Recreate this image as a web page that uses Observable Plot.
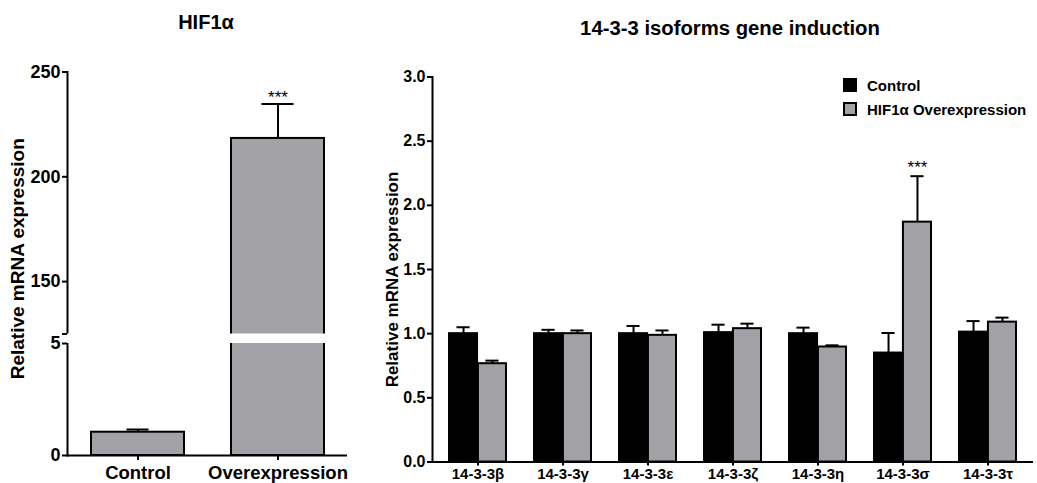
<!DOCTYPE html>
<html><head><meta charset="utf-8">
<script src="https://cdn.jsdelivr.net/npm/d3@7"></script>
<script src="https://cdn.jsdelivr.net/npm/@observablehq/plot@0.6"></script>
<style>
html,body{margin:0;padding:0;background:#fff;}
#page{position:relative;width:1037px;height:483px;overflow:hidden;font-family:"Liberation Sans",Arial,sans-serif;font-weight:bold;color:#000;}
.abs{position:absolute;}
.title{font-size:20px;line-height:20px;white-space:nowrap;transform:translateX(-50%);}
.lg{position:absolute;display:flex;align-items:center;font-size:15px;white-space:nowrap;}
.sw{width:10px;height:10px;border:2px solid #000;margin-right:10px;}
</style></head><body>
<div id="page">
 <div id="left" class="abs" style="left:0;top:0"></div>
 <div id="right" class="abs" style="left:360px;top:0"></div>
 <div class="abs title" style="left:206px;top:12px">HIF1α</div>
 <div class="abs title" style="left:730px;top:18px;font-size:20.3px">14-3-3 isoforms gene induction</div>
 <div id="legend"></div>
</div>
<script>
// ---- data ----
const hifGroups = ["Control", "Overexpression"];
const hifMean = [1.04, 218.3];
const hifSem = [0.12, 16.4];
const hifSig = ["", "***"];
const hifTicks = [0, 5, 150, 200, 250];
const hifBreak = [5, 125];

const isoforms = ["14-3-3β","14-3-3γ","14-3-3ε","14-3-3ζ","14-3-3η","14-3-3σ","14-3-3τ"];
const seriesNames = ["Control", "HIF1α Overexpression"];
const controlMean = [1.00, 1.00, 1.00, 1.008, 1.00, 0.849, 1.012];
const controlSem  = [0.05, 0.03, 0.06, 0.062, 0.047, 0.156, 0.086];
const overMean    = [0.766, 1.00, 0.987, 1.039, 0.896, 1.869, 1.09];
const overSem     = [0.024, 0.025, 0.038, 0.039, 0.013, 0.358, 0.035];
const overSig     = ["", "", "", "", "", "***", ""];
const isoTicks = [0, 0.5, 1, 1.5, 2, 2.5, 3];

const GRAY = "#a2a1a6";
const FONT = "'Liberation Sans', Arial, sans-serif";

// ---- left chart: HIF1α with broken axis ----
const hif = hifGroups.map((g, i) => ({group: g, mean: hifMean[i], sem: hifSem[i], top: hifMean[i] + hifSem[i], sig: hifSig[i]}));
const L = {width: 360, height: 483, mt: 71.5, mb: 28, ml: 67, mr: 13};
const lBase = L.height - L.mb;
const lpi = 0.336, lpo = 0.168;
const lStep = (L.width - L.ml - L.mr) / (hifGroups.length - lpi + 2 * lpo);
const lBw = lStep * (1 - lpi);
const capL = [22, 32];

const left = Plot.plot({
  width: L.width, height: L.height,
  marginTop: L.mt, marginBottom: L.mb, marginLeft: L.ml, marginRight: L.mr,
  style: {fontFamily: FONT, fontWeight: "bold", background: "transparent", overflow: "visible"},
  x: {domain: hifGroups, paddingInner: lpi, paddingOuter: lpo},
  y: {type: "linear", domain: [0, hifBreak[0], hifBreak[1], 250], range: [lBase, 343, 333.5, L.mt]},
  marks: [
    Plot.frame({anchor: "left", stroke: "black", strokeWidth: 2}),
    Plot.barY(hif, {x: "group", y: "mean", fill: GRAY, stroke: "black", strokeWidth: 2}),
    Plot.ruleX(hif, {x: "group", y1: "mean", y2: "top", stroke: "black", strokeWidth: 2}),
    ...hif.map((d, i) => Plot.tickY([d], {x: "group", y: "top", stroke: "black", strokeWidth: 2,
        insetLeft: (lBw - capL[i]) / 2, insetRight: (lBw - capL[i]) / 2})),
    Plot.rect([{lo: hifBreak[0], hi: hifBreak[1]}], {y1: "lo", y2: "hi", fill: "white", insetLeft: -5}),
    Plot.ruleY([0], {stroke: "black", strokeWidth: 2}),
    Plot.axisY({ticks: [...hifTicks, hifBreak[1]], tickFormat: d => d === hifBreak[1] ? "" : d,
      tickSize: 5, tickPadding: 2, fontSize: 18, strokeWidth: 2, label: null}),
    Plot.axisX({tickSize: 5, tickPadding: 5, fontSize: 18.5, strokeWidth: 2, label: null}),
    Plot.text(hif, {x: "group", y: "top", text: "sig", lineAnchor: "bottom", dy: -1, fontSize: 17, fontWeight: "normal"}),
    Plot.text(["Relative mRNA expression"], {frameAnchor: "left", textAnchor: "middle", rotate: -90, dx: -50, dy: -5, fontSize: 19})
  ]
});
document.getElementById("left").appendChild(left);

// ---- right chart: 14-3-3 isoforms ----
const ctrl = isoforms.map((k, i) => ({iso: k, mean: controlMean[i], top: controlMean[i] + controlSem[i]}));
const over = isoforms.map((k, i) => ({iso: k, mean: overMean[i], top: overMean[i] + overSem[i], sig: overSig[i]}));
const R = {width: 677, height: 483, mt: 76.5, mb: 21.5, ml: 72, mr: 4};
const rpi = 0.326, rpo = 0.163;
const rStep = (R.width - R.ml - R.mr) / (isoforms.length - rpi + 2 * rpo);
const bw = rStep * (1 - rpi);
const cap = 14;

const right = Plot.plot({
  width: R.width, height: R.height,
  marginTop: R.mt, marginBottom: R.mb, marginLeft: R.ml, marginRight: R.mr,
  style: {fontFamily: FONT, fontWeight: "bold", background: "transparent", overflow: "visible"},
  x: {domain: isoforms, paddingInner: rpi, paddingOuter: rpo},
  y: {domain: [0, 3]},
  marks: [
    Plot.frame({anchor: "left", stroke: "black", strokeWidth: 2}),
    Plot.barY(ctrl, {x: "iso", y: "mean", fill: "black", stroke: "black", strokeWidth: 2, insetRight: bw / 2}),
    Plot.barY(over, {x: "iso", y: "mean", fill: GRAY, stroke: "black", strokeWidth: 2, insetLeft: bw / 2}),
    Plot.ruleX(ctrl, {x: "iso", y1: "mean", y2: "top", dx: -bw / 4, stroke: "black", strokeWidth: 2}),
    Plot.ruleX(over, {x: "iso", y1: "mean", y2: "top", dx: bw / 4, stroke: "black", strokeWidth: 2}),
    Plot.tickY(ctrl, {x: "iso", y: "top", stroke: "black", strokeWidth: 2, insetLeft: bw / 4 - cap / 2, insetRight: 3 * bw / 4 - cap / 2}),
    Plot.tickY(over, {x: "iso", y: "top", stroke: "black", strokeWidth: 2, insetLeft: 3 * bw / 4 - cap / 2, insetRight: bw / 4 - cap / 2}),
    Plot.ruleY([0], {stroke: "black", strokeWidth: 2}),
    Plot.axisY({ticks: isoTicks, tickFormat: d3.format(".1f"), tickSize: 5, tickPadding: 2, fontSize: 16, strokeWidth: 2, label: null}),
    Plot.axisX({tickSize: 4, tickPadding: 2, fontSize: 15, strokeWidth: 2, label: null}),
    Plot.text(over, {x: "iso", y: "top", text: "sig", dx: bw / 4, lineAnchor: "bottom", dy: -3, fontSize: 17, fontWeight: "normal"}),
    Plot.text(["Relative mRNA expression"], {frameAnchor: "left", textAnchor: "middle", rotate: -90, dx: -40, dy: 10, fontSize: 17})
  ]
});
document.getElementById("right").appendChild(right);

// ---- legend ----
const legend = document.getElementById("legend");
const fills = ["black", GRAY];
seriesNames.forEach((name, i) => {
  const row = document.createElement("div");
  row.className = "lg";
  row.style.left = "843px";
  row.style.top = (78 + i * 24) + "px";
  row.style.height = "14px";
  const sw = document.createElement("div");
  sw.className = "sw";
  sw.style.background = fills[i];
  row.appendChild(sw);
  const t = document.createElement("span");
  t.textContent = name;
  row.appendChild(t);
  legend.appendChild(row);
});
</script>
</body></html>
